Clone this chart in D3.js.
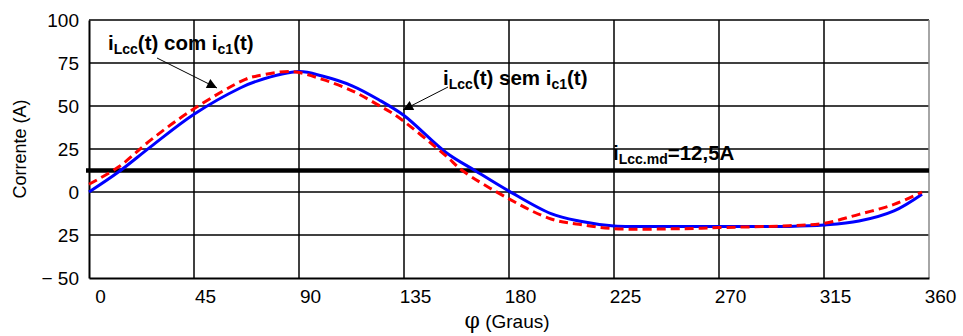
<!DOCTYPE html>
<html><head><meta charset="utf-8">
<script src="https://cdn.jsdelivr.net/npm/d3@7"></script>
<style>body{margin:0;background:#fff}svg{display:block}</style>
</head><body>
<script>
// ---- data ----
const xTicks = [0,45,90,135,180,225,270,315,360];
const yTicks = [100,75,50,25,0,-25,-50];
const yTickLabels = ["100","75","50","25","0","25","\u2212 50"];
const blueAngle = [0,12.6,26.8,45,65,72,90,100,113,125,135,153,165.4,180,198,210,225,240,270,300,315,330,345,357];
const blueValue = [0,11.6,26.7,45.2,60.6,64.5,70,67.4,61.6,53,44.5,23,12.5,0.5,-12.6,-16.9,-19.8,-20,-20,-20,-19.2,-16.9,-11,-1.3];
const redAngle = [0,12.6,26.8,45,67,72,87,100,113,124,132,153,160,180,198,210,225,255,270,300,315,330,345,357];
const redValue = [4.5,14.5,30.6,48.4,65.5,67.4,70,65.5,58.7,50.5,44,21,12.5,-4,-15.7,-18.8,-21.3,-21.3,-20.7,-19.6,-18.2,-13,-7.2,0];
const meanValue = 12.5;

const W = 963, H = 336;
const m = {left:89, right:963-929, top:20, bottom:336-278};
const svg = d3.select("body").append("svg").attr("width",W).attr("height",H);
const x = d3.scaleLinear().domain([0,360]).range([m.left, W-m.right]);
const y = d3.scaleLinear().domain([-50,100]).range([H-m.bottom, m.top]);
const font = "'Liberation Sans', Arial, sans-serif";

// grid
svg.append("g").selectAll("line").data(xTicks.slice(1,-1)).join("line")
  .attr("x1",d=>x(d)).attr("x2",d=>x(d)).attr("y1",y(100)).attr("y2",y(-50))
  .attr("stroke","#000").attr("stroke-width",1.5);
svg.append("g").selectAll("line").data(yTicks.slice(1,-1)).join("line")
  .attr("x1",x(0)).attr("x2",x(360)).attr("y1",d=>y(d)).attr("y2",d=>y(d))
  .attr("stroke","#000").attr("stroke-width",1.5);
// frame
svg.append("line").attr("x1",x(0)).attr("x2",x(360)).attr("y1",y(100)).attr("y2",y(100)).attr("stroke","#000").attr("stroke-width",1.5);
svg.append("line").attr("x1",x(360)).attr("x2",x(360)).attr("y1",y(100)).attr("y2",y(-50)).attr("stroke","#888").attr("stroke-width",1.5);

// axes
const xAxis = svg.append("g").attr("transform",`translate(0,${y(-50)})`)
  .call(d3.axisBottom(x).tickValues(xTicks).tickSize(0).tickPadding(0));
xAxis.select(".domain").attr("stroke","#000").attr("stroke-width",2);
xAxis.selectAll("text").attr("font-family",font).attr("font-size",19).attr("fill","#000")
  .attr("dy",null).attr("y",25).attr("dx",11);
const yAxis = svg.append("g").attr("transform",`translate(${x(0)},0)`)
  .call(d3.axisLeft(y).tickValues(yTicks).tickFormat((d,i)=>yTickLabels[i]).tickSize(0).tickPadding(10));
yAxis.select(".domain").attr("stroke","#000").attr("stroke-width",2);
yAxis.selectAll("text").attr("font-family",font).attr("font-size",19).attr("fill","#000").attr("dy","0.35em");

// axis titles
svg.append("text").attr("transform",`translate(26,${(y(100)+y(-50))/2}) rotate(-90)`)
  .attr("text-anchor","middle").attr("font-family",font).attr("font-size",18).text("Corrente (A)");
const xt = svg.append("text").attr("x",507).attr("y",328).attr("text-anchor","middle")
  .attr("font-family",font).attr("font-size",19);
xt.append("tspan").attr("font-family","'DejaVu Serif', serif").attr("font-size",22).text("\u03C6");
xt.append("tspan").text(" (Graus)");

// mean line
svg.append("line").attr("x1",x(0)-3).attr("x2",x(360)).attr("y1",y(meanValue)).attr("y2",y(meanValue))
  .attr("stroke","#000").attr("stroke-width",4.5);

// curves
const line = d3.line().x(d=>x(d[0])).y(d=>y(d[1])).curve(d3.curveCatmullRom.alpha(0.5));
svg.append("path").datum(blueAngle.map((a,i)=>[a,blueValue[i]])).attr("d",line)
  .attr("fill","none").attr("stroke","#0000ff").attr("stroke-width",3);
svg.append("path").datum(redAngle.map((a,i)=>[a,redValue[i]])).attr("d",line)
  .attr("fill","none").attr("stroke","#ff0000").attr("stroke-width",3).attr("stroke-dasharray","9,5");

// annotations
svg.append("defs").append("marker").attr("id","ah").attr("viewBox","0 0 10 10")
  .attr("refX",10).attr("refY",5).attr("markerWidth",14).attr("markerHeight",10)
  .attr("markerUnits","userSpaceOnUse").attr("orient","auto")
  .append("path").attr("d","M0,0L10,5L0,10z").attr("fill","#000");
function label(px,py,parts){
  const t = svg.append("text").attr("x",px).attr("y",py).attr("font-family",font)
    .attr("font-weight","bold").attr("font-size",20.5);
  parts.forEach(p=>{
    const s = t.append("tspan").text(p[0]);
    if(p[1]) s.attr("font-size",14).attr("dy",4); else s.attr("dy",p[2]||0);
  });
}
label(108,50,[["i"],["Lcc",1],["(t) com i",0,-4],["c1",1],["(t)",0,-4]]);
label(443,85,[["i"],["Lcc",1],["(t) sem i",0,-4],["c1",1],["(t)",0,-4]]);
label(613,160,[["i"],["Lcc.md",1],["=12,5A",0,-4]]);
svg.append("line").attr("x1",157).attr("y1",58).attr("x2",217).attr("y2",88)
  .attr("stroke","#000").attr("stroke-width",1).attr("marker-end","url(#ah)");
svg.append("line").attr("x1",448).attr("y1",87).attr("x2",403).attr("y2",110)
  .attr("stroke","#000").attr("stroke-width",1).attr("marker-end","url(#ah)");
</script>
</body></html>
